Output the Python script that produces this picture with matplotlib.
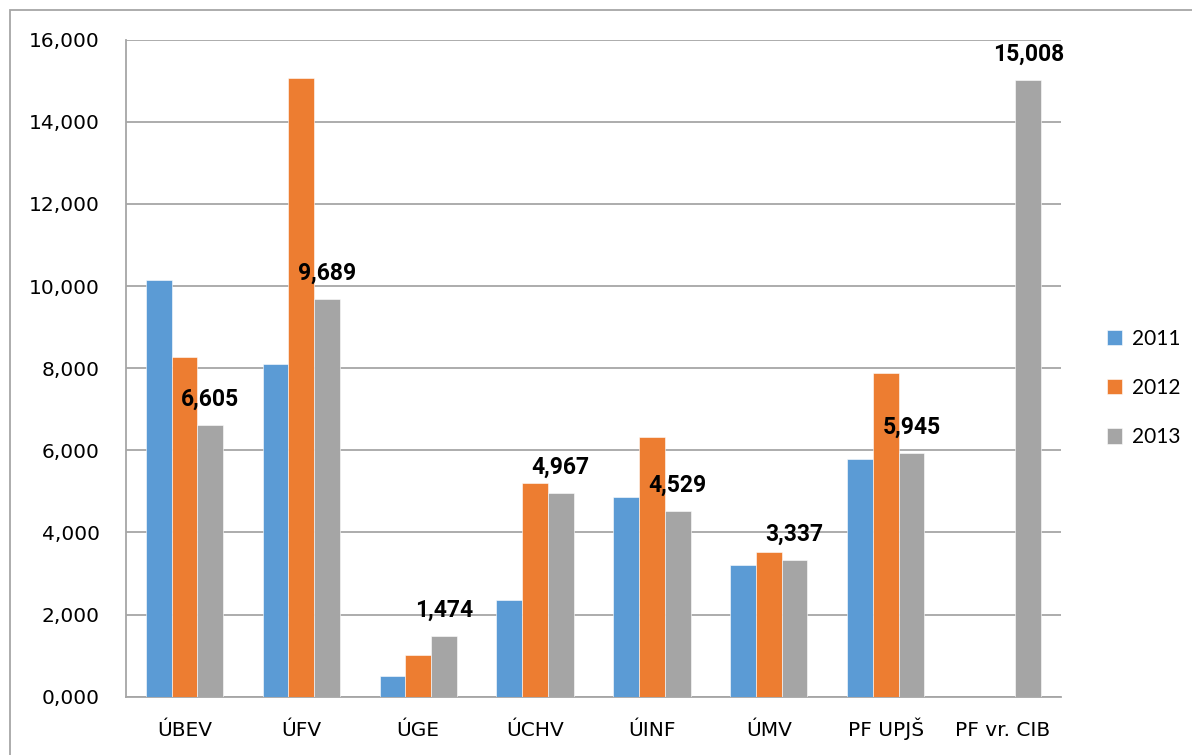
import matplotlib
matplotlib.use("Agg")
import matplotlib.pyplot as plt
from matplotlib.patches import Rectangle
import numpy as np

categories = ["ÚBEV", "ÚFV", "ÚGE", "ÚCHV", "ÚINF", "ÚMV", "PF UPJŠ", "PF vr. CIB"]
years = ["2011", "2012", "2013"]
v2011 = [10.15, 8.10, 0.51, 2.355, 4.87, 3.21, 5.78, np.nan]
v2012 = [8.27, 15.06, 1.015, 5.20, 6.32, 3.52, 7.87, np.nan]
v2013 = [6.605, 9.689, 1.474, 4.967, 4.529, 3.337, 5.945, 15.008]
colors = ["#5B9BD5", "#ED7D31", "#A5A5A5"]


def fmt(v):
    # decimal comma, three places, like the source sheet
    return "{:.3f}".format(v).replace(".", ",")


def main():
    fig = plt.figure(figsize=(11.92, 7.55), dpi=100)
    ax = fig.add_axes([126 / 1192, 58.3 / 755, 935 / 1192, 657.1 / 755])

    x = np.arange(len(categories))
    w = 0.22
    series = [v2011, v2012, v2013]
    for i, (vals, col, yr) in enumerate(zip(series, colors, years)):
        bars = ax.bar(x + (i - 1) * w, vals, width=w, color=col, label=yr,
                      edgecolor="white", linewidth=0.4, zorder=3)
        if i == 2:
            for b, v in zip(bars, vals):
                ax.annotate(fmt(v), (b.get_x() + b.get_width() / 2, v),
                            xytext=(0, 18.5), textcoords="offset points",
                            ha="center", va="center", fontsize=16.5,
                            fontweight="bold", family=["Roboto", "DejaVu Sans"], zorder=4)

    ticks = np.arange(0, 17, 2)
    ax.set_xlim(-0.5, len(categories) - 0.5)
    ax.set_ylim(0, 16)
    ax.set_yticks(ticks)
    ax.set_yticklabels([fmt(t) for t in ticks], family="DejaVu Sans", fontsize=14.5)
    ax.set_xticks(x)
    ax.set_xticklabels(categories, family="DejaVu Sans", fontsize=14.5, va="baseline")
    ax.tick_params(axis="y", length=0, pad=19)
    ax.tick_params(axis="x", length=0, pad=28)
    ax.grid(axis="y", color="#a6a6a6", linewidth=1.3, zorder=0)
    for s in ["top", "right"]:
        ax.spines[s].set_visible(False)
    for s in ["left", "bottom"]:
        ax.spines[s].set_color("#a6a6a6")
        ax.spines[s].set_linewidth(1.3)

    fig.legend(loc="center left", bbox_to_anchor=(1088 / 1192, 1 - 388 / 755),
               frameon=False, prop={"family": "Lato", "size": 15},
               handlelength=0.75, handleheight=0.75, handletextpad=0.45, labelspacing=1.4)

    fig.patches.append(Rectangle((10 / 1192, -0.1), 1.2, 1.1 - 10 / 755,
                                 transform=fig.transFigure, fill=False,
                                 edgecolor="#a6a6a6", linewidth=1.3))

    fig.savefig("out.png", dpi=100)


if __name__ == "__main__":
    main()
